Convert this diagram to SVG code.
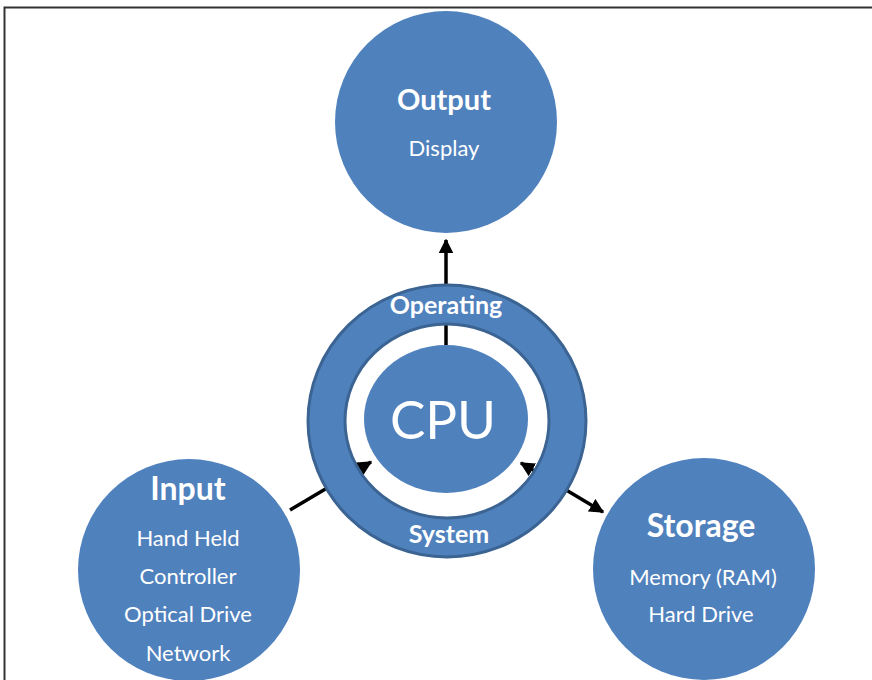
<svg xmlns="http://www.w3.org/2000/svg" width="872" height="680" viewBox="0 0 872 680">
<defs>
<marker id="ah" viewBox="0 0 10 10" refX="9" refY="5" markerWidth="4.2" markerHeight="4.2" orient="auto-start-reverse" markerUnits="strokeWidth">
<path d="M0,0 L10,5 L0,10 z" fill="#000"/>
</marker>
<style>
.node{fill:#4F81BD}
.t{font-family:Lato,"Open Sans","Liberation Sans",sans-serif;fill:#fff;text-anchor:middle}
.h{font-size:32px;font-weight:bold}
.s{font-size:22px}
.c{stroke:#000;stroke-width:3.5;fill:none}
</style>
</defs>
<rect width="872" height="680" fill="#fff"/>
<path d="M4.5,680 V7.5 H872" fill="none" stroke="#333" stroke-width="2"/>
<g id="connectors">
<line class="c" x1="446" y1="345" x2="446" y2="240" marker-end="url(#ah)"/>
<line class="c" x1="290" y1="510" x2="371" y2="462" marker-end="url(#ah)"/>
<line class="c" x1="521" y1="463" x2="603" y2="512" marker-start="url(#ah)" marker-end="url(#ah)"/>
</g>
<g id="output">
<circle class="node" cx="446" cy="122" r="111"/>
<text class="t" x="444" y="110" font-size="29" font-weight="bold">Output</text>
<text class="t s" x="444" y="156">Display</text>
</g>
<g id="input">
<circle class="node" cx="189" cy="570" r="111"/>
<text class="t h" x="188" y="500">Input</text>
<text class="t s" x="188" y="546">Hand Held</text>
<text class="t s" x="188" y="584">Controller</text>
<text class="t s" x="188" y="622">Optical Drive</text>
<text class="t s" x="188" y="661">Network</text>
</g>
<g id="storage">
<circle class="node" cx="704" cy="569" r="111"/>
<text class="t h" x="701" y="537">Storage</text>
<text class="t s" x="703" y="585">Memory (RAM)</text>
<text class="t s" x="701" y="622">Hard Drive</text>
</g>
<g id="os">
<path fill="#4F81BD" fill-rule="evenodd" stroke="#3B6493" stroke-width="3" d="M308,421 a139,136 0 1,0 278,0 a139,136 0 1,0 -278,0 z M345,421 a102,97 0 1,0 204,0 a102,97 0 1,0 -204,0 z"/>
<text class="t" x="446" y="314" font-size="25" font-weight="bold">Operating</text>
<text class="t" x="449" y="543" font-size="25" font-weight="bold">System</text>
</g>
<g id="cpu">
<ellipse class="node" cx="446" cy="419" rx="82" ry="74"/>
<text class="t" x="443" y="439" font-size="53">CPU</text>
</g>
</svg>
